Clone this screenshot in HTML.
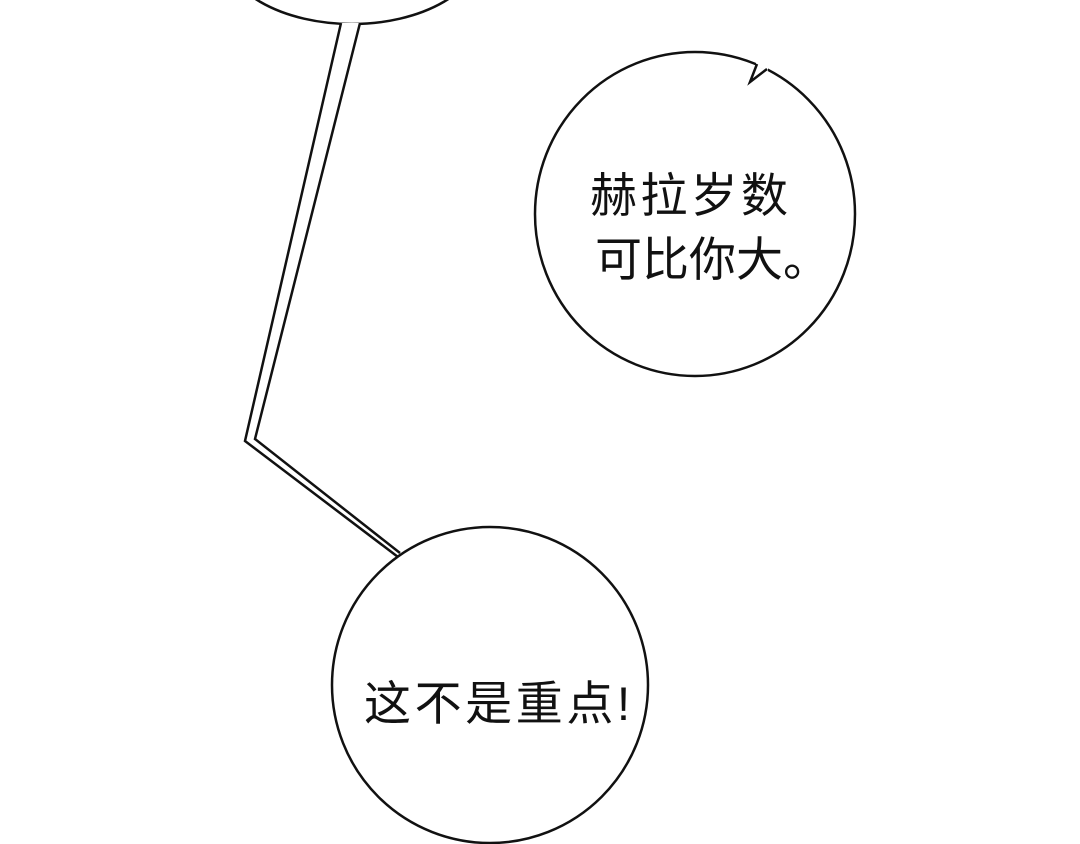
<!DOCTYPE html>
<html><head><meta charset="utf-8"><style>
html,body{margin:0;padding:0;background:#fff;}
svg{display:block}
text{font-family:"Liberation Sans","Noto Sans CJK SC",sans-serif;font-size:47px;fill:#111}
</style></head><body>
<svg width="1080" height="844" viewBox="0 0 1080 844">
<rect width="1080" height="844" fill="#fff"/>
<ellipse cx="352" cy="-52" rx="130" ry="76" fill="#fff" stroke="#111" stroke-width="2.5"/>
<polygon points="341,23 245,441 398,557 400,553 255,439 360,23" fill="#fff" stroke="none"/>
<polyline points="341,23 245,441 398,557" fill="none" stroke="#111" stroke-width="2.5"/>
<polyline points="360,23 255,439 400,553" fill="none" stroke="#111" stroke-width="2.5"/>
<ellipse cx="695" cy="214" rx="160" ry="162" fill="#fff" stroke="#111" stroke-width="2.5"/>
<polygon points="756,60 768,60 768,71 756,66" fill="#fff" stroke="none"/>
<polyline points="757,64 750,82 767,69" fill="none" stroke="#111" stroke-width="2.5" stroke-linejoin="miter"/>
<circle cx="490" cy="685" r="158" fill="#fff" stroke="#111" stroke-width="2.5"/>
<text x="590" y="212" textLength="198" lengthAdjust="spacing">赫拉岁数</text>
<text x="595" y="276">可比你大。</text>
<text x="364" y="720" textLength="266" lengthAdjust="spacing">这不是重点!</text>
</svg>
</body></html>
